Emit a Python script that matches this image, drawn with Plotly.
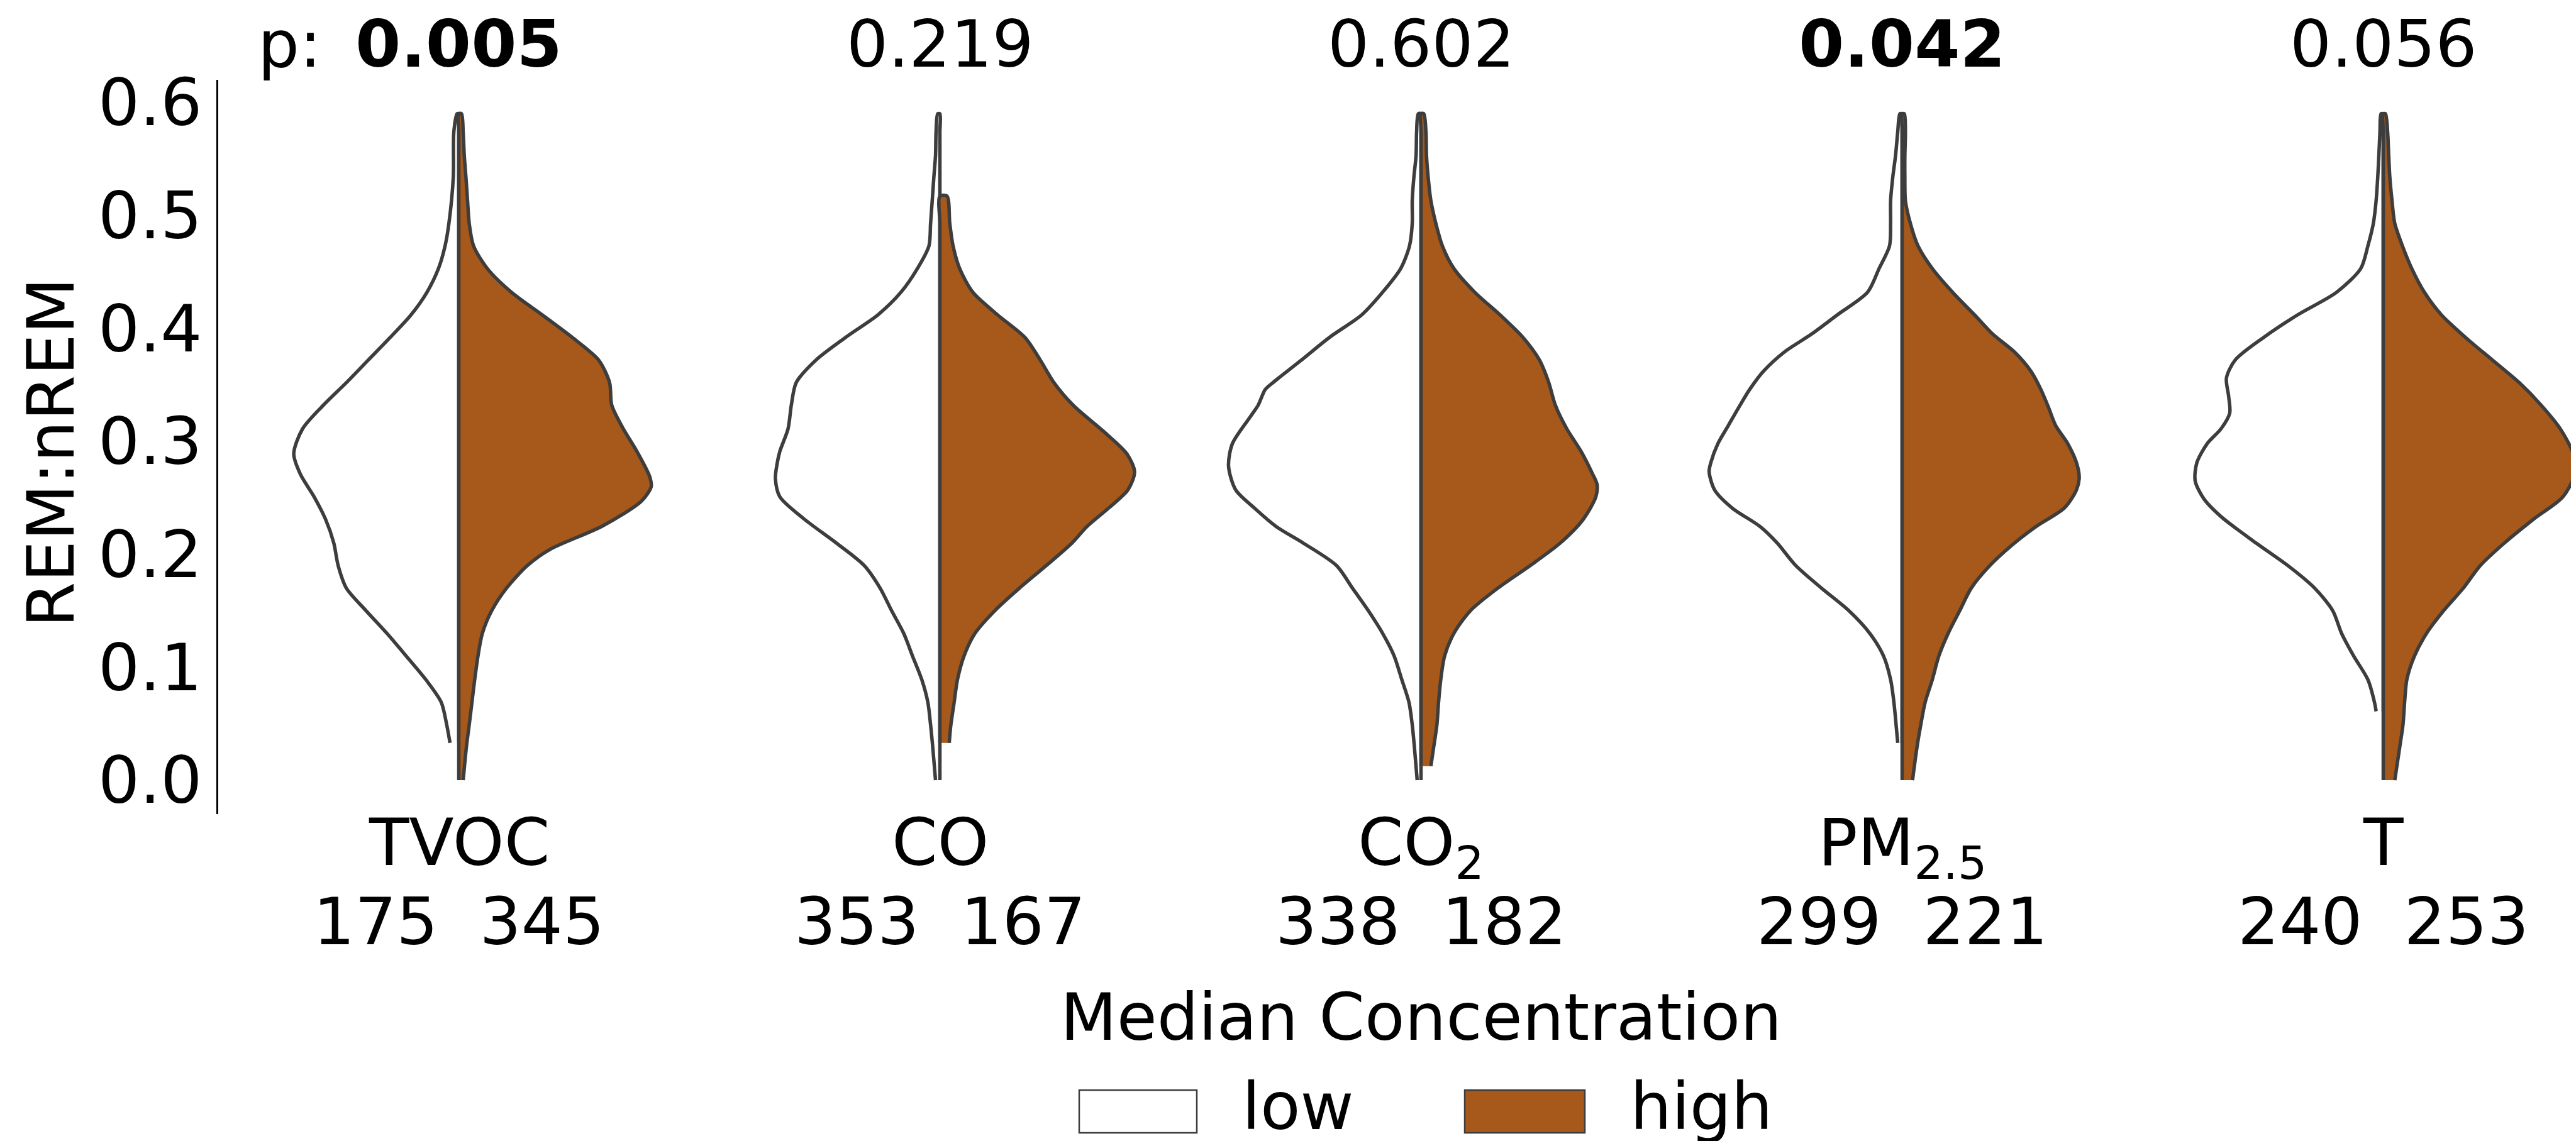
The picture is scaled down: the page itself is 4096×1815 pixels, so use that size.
import plotly.graph_objects as go

# ---------------- data ----------------
CATEGORIES = ["TVOC", "CO", "CO<sub>2</sub>", "PM<sub>2.5</sub>", "T"]
P_VALUES = ["0.005", "0.219", "0.602", "0.042", "0.056"]
P_BOLD = [True, False, False, True, False]
N_LOW = [175, 353, 338, 299, 240]
N_HIGH = [345, 167, 182, 221, 253]
GROUPS = ["low", "high"]
Y_TICKS = [0.0, 0.1, 0.2, 0.3, 0.4, 0.5, 0.6]

# kernel density profiles (REM:nREM value -> density, arbitrary units)
TVOC_LOW_Y = [0.033, 0.049, 0.069, 0.089, 0.110, 0.130, 0.150, 0.170, 0.190, 0.210, 0.231, 0.251, 0.271, 0.289, 0.311, 0.332, 0.352, 0.372, 0.392, 0.412, 0.432, 0.453, 0.473, 0.493, 0.534, 0.574, 0.590]
TVOC_LOW_D = [16, 22, 32, 60, 96, 131, 169, 205, 220, 228, 243, 264, 289, 301, 285, 247, 205, 165, 125, 87, 58, 37, 25, 18, 10, 9, 3]
TVOC_HIGH_Y = [0.0, 0.030, 0.049, 0.073, 0.089, 0.110, 0.130, 0.150, 0.170, 0.190, 0.204, 0.225, 0.247, 0.260, 0.269, 0.291, 0.312, 0.332, 0.352, 0.372, 0.392, 0.412, 0.432, 0.453, 0.473, 0.493, 0.513, 0.534, 0.553, 0.574, 0.590]
TVOC_HIGH_D = [8, 14, 19, 25, 29, 35, 43, 60, 87, 125, 165, 262, 333, 351, 348, 325, 299, 279, 275, 255, 207, 152, 96, 52, 27, 19, 16, 13, 10, 8, 5]

CO_LOW_Y = [0.0, 0.029, 0.049, 0.069, 0.089, 0.110, 0.130, 0.150, 0.170, 0.190, 0.210, 0.231, 0.251, 0.267, 0.280, 0.291, 0.311, 0.332, 0.352, 0.372, 0.392, 0.412, 0.432, 0.453, 0.473, 0.493, 0.513, 0.534, 0.553, 0.574, 0.590]
CO_LOW_D = [8, 13, 17, 22, 33, 50, 66, 88, 109, 138, 189, 247, 292, 300, 297, 292, 277, 271, 262, 226, 172, 113, 71, 41, 20, 17, 14, 11, 8, 7, 4]
CO_HIGH_Y = [0.033, 0.049, 0.069, 0.089, 0.110, 0.130, 0.150, 0.170, 0.190, 0.210, 0.2245, 0.241, 0.257, 0.273, 0.289, 0.306, 0.332, 0.352, 0.372, 0.392, 0.412, 0.432, 0.453, 0.473, 0.493, 0.517]
CO_HIGH_D = [17, 20, 26, 32, 44, 64, 100, 145, 194, 241, 268, 308, 343, 355, 341, 305, 243, 208, 183, 155, 105, 60, 36, 24, 18, 13]

CO2_LOW_Y = [0.0, 0.029, 0.049, 0.069, 0.089, 0.110, 0.130, 0.150, 0.170, 0.190, 0.210, 0.2245, 0.241, 0.257, 0.278, 0.298, 0.322, 0.332, 0.346, 0.352, 0.372, 0.392, 0.412, 0.432, 0.453, 0.473, 0.493, 0.513, 0.534, 0.553, 0.574, 0.590]
CO2_LOW_D = [7, 12, 16, 22, 35, 49, 70, 96, 125, 154, 215, 264, 304, 338, 351, 344, 311, 297, 284, 270, 218, 167, 108, 70, 37, 21, 16, 16, 13, 9, 8, 5]
CO2_HIGH_Y = [0.0125, 0.029, 0.049, 0.069, 0.089, 0.110, 0.130, 0.150, 0.170, 0.190, 0.210, 0.231, 0.251, 0.262, 0.271, 0.291, 0.311, 0.332, 0.352, 0.372, 0.392, 0.412, 0.432, 0.453, 0.473, 0.493, 0.513, 0.534, 0.553, 0.574, 0.590]
CO2_HIGH_D = [18, 23, 29, 32, 36, 43, 60, 90, 140, 199, 254, 296, 319, 321, 313, 292, 266, 245, 233, 216, 186, 144, 98, 60, 39, 27, 18, 13, 10, 9, 5]

PM_LOW_Y = [0.033, 0.049, 0.069, 0.089, 0.110, 0.130, 0.150, 0.170, 0.190, 0.210, 0.2245, 0.241, 0.257, 0.273, 0.281, 0.298, 0.314, 0.330, 0.346, 0.362, 0.379, 0.395, 0.412, 0.432, 0.453, 0.473, 0.493, 0.513, 0.534, 0.553, 0.574, 0.590]
PM_LOW_D = [8, 11, 15, 21, 34, 59, 97, 147, 194, 228, 259, 310, 342, 352, 349, 336, 317, 298, 278, 253, 215, 165, 118, 63, 42, 23, 21, 21, 17, 12, 8, 4]
PM_HIGH_Y = [0.0, 0.029, 0.049, 0.069, 0.089, 0.110, 0.130, 0.150, 0.170, 0.190, 0.208, 0.2245, 0.241, 0.257, 0.268, 0.281, 0.298, 0.314, 0.330, 0.346, 0.362, 0.379, 0.395, 0.412, 0.432, 0.453, 0.473, 0.493, 0.513, 0.534, 0.553, 0.574, 0.590]
PM_HIGH_D = [19, 27, 34, 42, 55, 67, 84, 105, 126, 160, 200, 244, 296, 318, 323, 318, 302, 280, 267, 253, 235, 205, 165, 132, 92, 55, 29, 15, 6, 5, 5, 6, 4]

T_LOW_Y = [0.061, 0.069, 0.089, 0.110, 0.130, 0.150, 0.170, 0.190, 0.210, 0.233, 0.249, 0.265, 0.281, 0.298, 0.311, 0.325, 0.340, 0.356, 0.372, 0.392, 0.412, 0.432, 0.453, 0.473, 0.493, 0.513, 0.534, 0.553, 0.574, 0.590]
T_LOW_D = [13, 16, 28, 54, 76, 92, 125, 174, 232, 295, 327, 343, 340, 321, 296, 280, 282, 286, 270, 218, 156, 85, 41, 28, 18, 13, 10, 8, 6, 4]
T_HIGH_Y = [0.0, 0.029, 0.049, 0.069, 0.089, 0.110, 0.130, 0.150, 0.170, 0.190, 0.210, 0.231, 0.251, 0.275, 0.291, 0.311, 0.332, 0.352, 0.372, 0.392, 0.412, 0.432, 0.453, 0.473, 0.493, 0.513, 0.534, 0.553, 0.574, 0.590]
T_HIGH_D = [21, 30, 36, 39, 43, 57, 79, 110, 146, 177, 221, 274, 328, 352, 345, 323, 288, 248, 199, 150, 106, 75, 52, 35, 21, 16, 12, 10, 8, 4]

PROFILES = [
    ((TVOC_LOW_Y, TVOC_LOW_D), (TVOC_HIGH_Y, TVOC_HIGH_D)),
    ((CO_LOW_Y, CO_LOW_D), (CO_HIGH_Y, CO_HIGH_D)),
    ((CO2_LOW_Y, CO2_LOW_D), (CO2_HIGH_Y, CO2_HIGH_D)),
    ((PM_LOW_Y, PM_LOW_D), (PM_HIGH_Y, PM_HIGH_D)),
    ((T_LOW_Y, T_LOW_D), (T_HIGH_Y, T_HIGH_D)),
]

# ---------------- styling / layout ----------------
FONT = "DejaVu Sans"
FS = 104
COLORS = {"low": "#ffffff", "high": "#a6591a"}
EDGE = "#3d3d3d"
DENS_TO_X = 1 / 877.5          # density unit -> category units

W, H = 4096, 1815
L, T, B = 339, 119, 1287
PW, PH = W - L, B - T
XMIN = -0.5
XMAX = XMIN + PW / 765.0
YMIN, YMAX = -0.03, 0.62


def pxx(x_out):
    return (x_out - L) / PW


def pyy(y_out):
    return (B - y_out) / PH


fig = go.Figure()
for i, (low, high) in enumerate(PROFILES):
    for side, grp, (ys, ds) in ((-1, "low", low), (1, "high", high)):
        xs = [i + side * d * DENS_TO_X for d in ds] + [i] * len(ys)
        yy = list(ys) + list(reversed(ys))
        fig.add_trace(go.Scatter(
            x=xs, y=yy, mode="lines", fill="toself",
            fillcolor=COLORS[grp],
            line=dict(color=EDGE, width=5.5, shape="spline", smoothing=0.8),
            showlegend=False, hoverinfo="skip"))

TXT = dict(family=FONT, size=FS, color="black")
ann = []
# p-values row
P_ROW_TOP = 0
ann.append(dict(x=-0.351, xref="x", y=pyy(P_ROW_TOP), yref="paper", text="p:",
                showarrow=False, xanchor="center", yanchor="top",
                font=TXT, borderpad=0))
for i, (pv, bold) in enumerate(zip(P_VALUES, P_BOLD)):
    ann.append(dict(x=i, xref="x", y=pyy(P_ROW_TOP), yref="paper",
                    text=f"<b>{pv}</b>" if bold else pv,
                    showarrow=False, xanchor="center", yanchor="top",
                    font=TXT, borderpad=0))
# category labels and counts
for i, cat in enumerate(CATEGORIES):
    ann.append(dict(x=i, xref="x", y=pyy(1270), yref="paper", text=cat,
                    showarrow=False, xanchor="center", yanchor="top",
                    font=TXT, borderpad=0))
    ann.append(dict(x=i, xref="x", y=pyy(1396), yref="paper",
                    text=f"{N_LOW[i]}\u00a0\u00a0{N_HIGH[i]}",
                    showarrow=False, xanchor="center", yanchor="top",
                    font=TXT, borderpad=0))
# y axis title
ann.append(dict(x=pxx(73), xref="paper", y=0.29, yref="y", text="REM:nREM",
                textangle=-90, showarrow=False, xanchor="center", yanchor="middle",
                font=TXT, borderpad=0))
# legend
ann.append(dict(x=2, xref="x", y=pyy(1548), yref="paper", text="Median Concentration",
                showarrow=False, xanchor="center", yanchor="top",
                font=TXT, borderpad=0))
shapes = []
LEG_PATCH_X = {"low": (1708, 1895), "high": (2321, 2512)}
LEG_TEXT_X = {"low": 1966, "high": 2583}
for grp in GROUPS:
    x0, x1 = LEG_PATCH_X[grp]
    shapes.append(dict(type="rect", xref="paper", yref="paper",
                       x0=pxx(x0), x1=pxx(x1), y0=pyy(1794), y1=pyy(1726),
                       fillcolor=COLORS[grp], line=dict(color=EDGE, width=2.5)))
    ann.append(dict(x=pxx(LEG_TEXT_X[grp]), xref="paper", y=pyy(1690), yref="paper",
                    text=grp, showarrow=False, xanchor="left", yanchor="top",
                    font=TXT, borderpad=0))

fig.update_layout(
    width=W, height=H,
    margin=dict(l=L, r=0, t=T, b=H - B, pad=0),
    paper_bgcolor="white", plot_bgcolor="white",
    showlegend=False,
    annotations=ann, shapes=shapes,
    xaxis=dict(range=[XMIN, XMAX], visible=False, fixedrange=True),
    yaxis=dict(range=[YMIN, YMAX], tickvals=Y_TICKS,
               ticktext=[f"{v:.1f}" for v in Y_TICKS],
               showline=True, linecolor="black", linewidth=2.5,
               ticks="", showgrid=False, zeroline=False,
               ticklabelstandoff=2,
               tickfont=TXT),
)

fig.write_html("out.html")
